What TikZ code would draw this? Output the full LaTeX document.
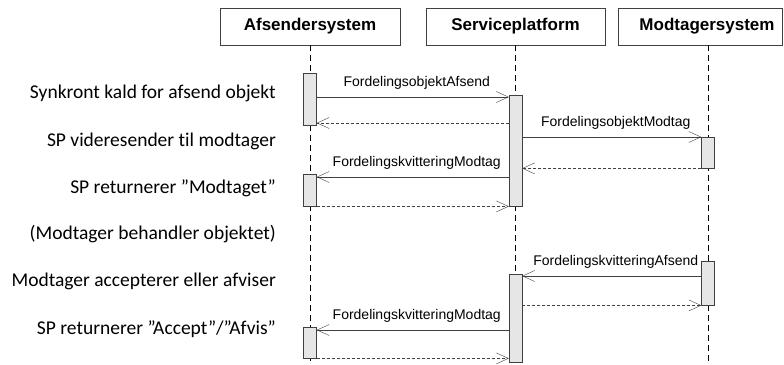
\documentclass[tikz,border=0pt]{standalone}
\usepackage{fontspec}
\setmainfont{Carlito}[Ligatures=NoCommon]
\newfontfamily\arialfont{Liberation Sans}
\usetikzlibrary{arrows.meta}
\definecolor{bargray}{RGB}{230,230,230}
\definecolor{linegray}{RGB}{64,64,64}

\tikzset{
  hdr/.style={draw=linegray, minimum width=180pt, minimum height=37pt, inner sep=0pt,
    font=\arialfont\bfseries\fontsize{17}{20}\selectfont},
  actbar/.style={draw=linegray, fill=bargray, minimum width=13pt, inner sep=0pt, anchor=north},
  lifeline/.style={black, dash pattern=on 6pt off 4pt},
  msg/.style={linegray, -{Straight Barb[length=12pt,width=11pt]}},
  reply/.style={msg, dash pattern=on 3pt off 2pt},
  lbl/.style={text=black, font=\arialfont\fontsize{14}{16}\selectfont, inner sep=0pt, above=7pt, xshift=4pt},
  note/.style={anchor=east, inner sep=0pt, font=\fontsize{19.5}{23}\selectfont},
}

\begin{document}
\begin{tikzpicture}[x=1pt, y=-1pt]
        \useasboundingbox (0,0) rectangle (784,364);
        % headers
        \node[hdr] (afs) at (310,26.5) {Afsendersystem};
        \node[hdr, minimum width=179pt] (sp) at (515.5,26.5) {Serviceplatform};
        \node[hdr, minimum width=164pt] (mod) at (700,26.5) {\hspace*{14pt}Modtagersystem};
        \coordinate (afsend) at (310,364);
        \coordinate (spend) at (515.5,364);
        \coordinate (modend) at (708,364);
        % lifelines
        \draw[lifeline] (afs.south) -- (afsend);
        \draw[lifeline] (sp.south) -- (spend);
        \draw[lifeline] ([xshift=8pt]mod.south) -- (modend);
        % activation bars
        \node[actbar, minimum height=52pt] (a1) at (310,73) {};
        \node[actbar, minimum height=111pt] (s1) at (515.5,95) {};
        \node[actbar, minimum height=31pt] (m1) at (708,137) {};
        \node[actbar, minimum height=32pt] (a2) at (310,174) {};
        \node[actbar, minimum height=44pt] (m2) at (708,261) {};
        \node[actbar, minimum height=88pt] (s2) at (515.5,274) {};
        \node[actbar, minimum height=31pt] (a3) at (310,327) {};
        % messages
        \draw[msg] (a1.east |- 0,97) -- node[lbl] {FordelingsobjektAfsend} (s1.west |- 0,97);
        \draw[reply] (s1.west |- 0,123) -- (a1.east |- 0,123);
        \draw[msg] (s1.east |- m1.north) -- node[lbl] {FordelingsobjektModtag} (m1.north west);
        \draw[reply] (m1.south west) -- (s1.east |- m1.south);
        \draw[msg] (s1.west |- 0,177) -- node[lbl] {FordelingskvitteringModtag} (a2.east |- 0,177);
        \draw[reply] (a2.south east) -- (s1.west |- a2.south);
        \draw[msg] (m2.west |- 0,276) -- node[lbl] {FordelingskvitteringAfsend} (s2.east |- 0,276);
        \draw[reply] (s2.east |- m2.south) -- (m2.south west);
        \draw[msg] (s2.west |- 0,330) -- node[lbl] {FordelingskvitteringModtag} (a3.east |- 0,330);
        \draw[reply] (a3.south east) -- (s2.west |- a3.south);
        % notes
        \node[note] (n1) at (276,93) {Synkront kald for afsend objekt};
        \node[note] (n2) at (276,141) {SP videresender til modtager};
        \node[note] (n3) at (276,188) {SP returnerer ”Modtaget”};
        \node[note] (n4) at (276,234) {(Modtager behandler objektet)};
        \node[note] (n5) at (276,281) {Modtager accepterer eller afviser};
        \node[note] (n6) at (276,329) {SP returnerer ”Accept”/”Afvis”};
\end{tikzpicture}
\end{document}
